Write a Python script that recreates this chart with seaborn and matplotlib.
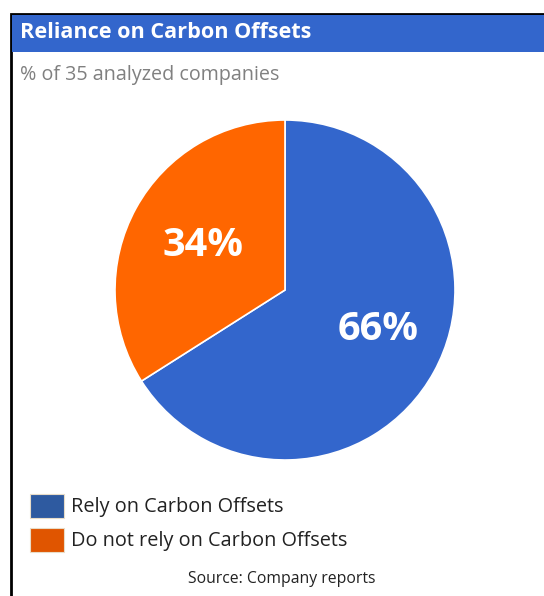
import matplotlib.pyplot as plt
import seaborn as sns
from matplotlib.patches import Rectangle

# data
labels = ['Rely on Carbon Offsets', 'Do not rely on Carbon Offsets']
shares = [66, 34]
pie_colors = ['#3366CC', '#FF6600']
legend_colors = ['#2E5AA0', '#E05500']

title = 'Reliance on Carbon Offsets'
subtitle = '% of 35 analyzed companies'
source = 'Source: Company reports'

sns.set_theme(style='white')
plt.rcParams['font.family'] = ['Open Sans', 'DejaVu Sans']

W, H = 544, 596
fig = plt.figure(figsize=(W / 100, H / 100), dpi=100)


def fx(x):
    return x / W


def fy(y):
    return 1 - y / H


# frame + header bar
fig.add_artist(Rectangle((fx(11), fy(620)), fx(560), 606 / H, transform=fig.transFigure,
                         facecolor='white', edgecolor='black', linewidth=2, zorder=-2))
fig.add_artist(Rectangle((fx(12), fy(52)), fx(540), 37 / H, transform=fig.transFigure,
                         facecolor='#3366CC', edgecolor='none', zorder=-1))
fig.text(fx(20), fy(32), title, color='white', fontsize=15.6, fontweight='bold', va='center')
fig.text(fx(20), fy(75), subtitle, color='#808080', fontsize=14.2, va='center')

# pie
ax = fig.add_axes([fx(115), fy(460), 340 / W, 340 / H])
wedges, texts = ax.pie(shares, colors=pie_colors, startangle=90, counterclock=False,
                       wedgeprops=dict(edgecolor='white', linewidth=1.2))
ax.set_xlim(-1, 1)
ax.set_ylim(-1, 1)
ax.set_aspect('equal')
ax.axis('off')

label_pos = [(378, 329), (203, 245)]
for v, (px, py) in zip(shares, label_pos):
    fig.text(fx(px), fy(py), f'{v}%', color='white', fontsize=28.5, fontweight='bold',
             ha='center', va='center')

# legend
for i, (lab, col) in enumerate(zip(labels, legend_colors)):
    y0 = 494 + i * 34
    fig.add_artist(Rectangle((fx(30), fy(y0 + 24)), fx(34), 24 / H, transform=fig.transFigure,
                             facecolor=col, edgecolor='#E8DCC8', linewidth=0.8))
    fig.text(fx(71), fy(y0 + 13), lab, color='#222222', fontsize=14.3, va='center')

fig.text(fx(282), fy(579), source, color='#222222', fontsize=11.3, ha='center', va='center')

fig.savefig('out.png', dpi=100)
